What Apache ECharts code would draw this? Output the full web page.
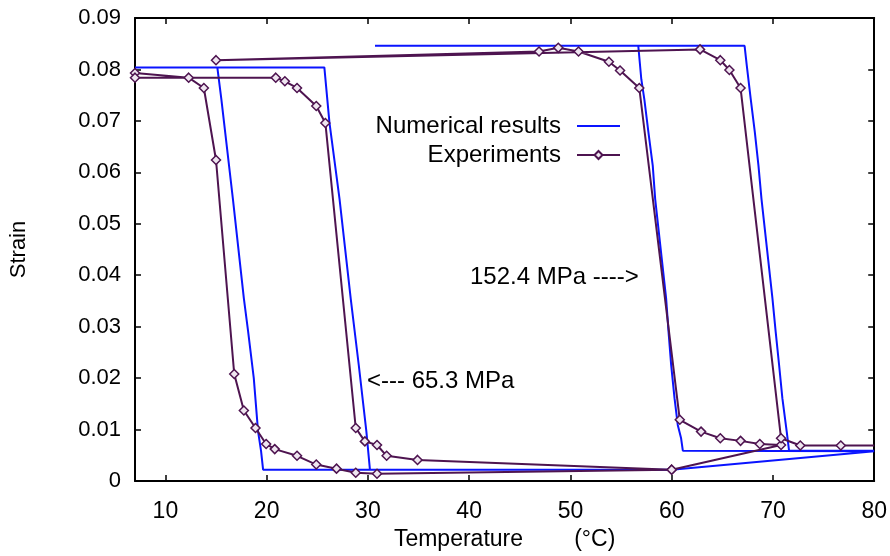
<!DOCTYPE html>
<html>
<head>
<meta charset="utf-8">
<title>Strain vs temperature</title>
<script src="https://cdn.jsdelivr.net/npm/echarts@6/dist/echarts.min.js"></script>
<style>
  html, body { margin: 0; padding: 0; background: #fff; }
  #chart { width: 890px; height: 556px; }
</style>
</head>
<body>
<div id="chart"></div>
<script>
// experiment points, in the order they were measured (65.3 MPa loop, then 152.4 MPa loop)
const expTemp = [60, 30.9, 28.8, 26.9, 24.9, 23.0, 20.8, 19.95, 18.9, 17.75, 16.8, 15.0, 13.8, 12.3, 7, 7,
  20.9, 21.8, 23.0, 24.9, 25.8, 28.8, 29.7, 30.9, 31.85, 34.9, 60,
  70.8, 68.7, 66.8, 64.8, 62.9, 60.8, 56.8, 54.9, 53.8, 50.8, 48.8, 46.9, 15.0,
  62.8, 64.8, 65.7, 66.8, 70.8, 72.7, 76.7, 80];
const expStrain = [0.0022, 0.0014, 0.0016, 0.0024, 0.0032, 0.0049, 0.0062, 0.0072, 0.0103, 0.0137, 0.0208, 0.0624, 0.0764, 0.0784, 0.0793, 0.0784,
  0.0784, 0.0777, 0.0764, 0.0729, 0.0696, 0.0103, 0.0077, 0.0070, 0.0049, 0.0041, 0.0022,
  0.0070, 0.0072, 0.0078, 0.0083, 0.0096, 0.0119, 0.0764, 0.0798, 0.0815, 0.0835, 0.0842, 0.0835, 0.0818,
  0.0839, 0.0818, 0.0799, 0.0764, 0.0083, 0.0069, 0.0069, 0.0069];

// numerical model path
const numTemp = [60, 19.65, 19.45, 19.15, 18.73, 18.17, 17.75, 16.67, 15.53, 15.13, 7,
  25.7, 26.2, 27.2, 28.3, 29.1, 29.85, 30.2, 60, 80,
  61.1, 60.93, 60.6, 60.28, 59.95, 59.69, 59.45, 58.37, 58.13, 57.7, 57.3, 57.0, 56.7, 30.7,
  67.2, 67.42, 67.81, 68.21, 68.57, 68.87, 69.95, 70.27, 70.61, 70.93, 71.36, 71.59, 80];
const numStrain = [0.0022, 0.0022, 0.0058, 0.0097, 0.0200, 0.0291, 0.0355, 0.0548, 0.0742, 0.0804, 0.0804,
  0.0804, 0.0697, 0.0548, 0.0355, 0.0225, 0.0096, 0.0022, 0.0022, 0.0058,
  0.0059, 0.0083, 0.0109, 0.0161, 0.0225, 0.0290, 0.0355, 0.0548, 0.0613, 0.0678, 0.0742, 0.0781, 0.0846, 0.0846,
  0.0846, 0.0807, 0.0742, 0.0678, 0.0613, 0.0548, 0.0355, 0.0290, 0.0225, 0.0161, 0.0096, 0.0059, 0.0059];

const seriesNames = ['Numerical results', 'Experiments'];
const notes = ['<--- 65.3 MPa', '152.4 MPa ---->'];

const font = '"Liberation Sans", Arial, Helvetica, sans-serif';
const purple = '#4e1450';
const blue = '#0a14ff';

const expData = expTemp.map((t, i) => {
  const item = { value: [t, expStrain[i]] };
  // the last point sits on the frame, no marker there
  if (i === expTemp.length - 1) item.symbol = 'none';
  return item;
});
const numData = numTemp.map((t, i) => [t, numStrain[i]]);

const axisCommon = {
  axisLine: { onZero: false, lineStyle: { color: '#000', width: 2 } },
  axisTick: { inside: true, length: 6, lineStyle: { color: '#000', width: 1.5 } },
  splitLine: { show: false }
};

const chart = echarts.init(document.getElementById('chart'));
chart.setOption({
  backgroundColor: '#fff',
  animation: false,
  textStyle: { fontFamily: font, color: '#000' },
  grid: { left: 135, right: 15, top: 18, bottom: 73 },
  legend: {
    orient: 'vertical',
    right: 264,
    top: 109,
    align: 'right',
    itemWidth: 43,
    itemHeight: 10,
    itemGap: 5,
    data: [
      { name: seriesNames[0], itemStyle: { opacity: 0 } },
      { name: seriesNames[1] }
    ],
    textStyle: { fontSize: 24, fontFamily: font, color: '#000', padding: [0, 11, 0, 0] }
  },
  xAxis: [
    Object.assign({}, axisCommon, {
      type: 'value',
      min: 7,
      max: 80,
      splitNumber: 7,
      name: 'Temperature        (°C)',
      nameLocation: 'middle',
      nameGap: 47,
      nameTextStyle: { fontSize: 23, fontFamily: font, color: '#000' },
      axisLabel: { fontSize: 23, fontFamily: font, color: '#000', margin: 19, showMinLabel: false }
    }),
    Object.assign({}, axisCommon, {
      type: 'value',
      position: 'top',
      min: 7,
      max: 80,
      splitNumber: 7,
      axisLabel: { show: false }
    })
  ],
  yAxis: [
    Object.assign({}, axisCommon, {
      type: 'value',
      min: 0,
      max: 0.09,
      interval: 0.01,
      name: 'Strain',
      nameLocation: 'middle',
      nameGap: 105,
      nameTextStyle: { fontSize: 22, fontFamily: font, color: '#000' },
      axisLabel: { fontSize: 22, fontFamily: font, color: '#000', margin: 14 }
    }),
    Object.assign({}, axisCommon, {
      type: 'value',
      position: 'right',
      min: 0,
      max: 0.09,
      interval: 0.01,
      axisLabel: { show: false }
    })
  ],
  series: [
    {
      name: seriesNames[0],
      type: 'line',
      data: numData,
      symbol: 'none',
      lineStyle: { color: blue, width: 2 },
      itemStyle: { color: blue },
      z: 2
    },
    {
      name: seriesNames[1],
      type: 'line',
      data: expData,
      symbol: 'diamond',
      symbolSize: 9,
      lineStyle: { color: purple, width: 2 },
      itemStyle: { color: '#efe6f0', borderColor: purple, borderWidth: 1.5 },
      z: 3
    }
  ],
  graphic: [
    {
      type: 'text',
      left: 367,
      top: 369,
      style: { text: notes[0], font: '24px ' + font, fill: '#000' }
    },
    {
      type: 'text',
      left: 470,
      top: 265,
      style: { text: notes[1], font: '24px ' + font, fill: '#000' }
    }
  ]
});
</script>
</body>
</html>
